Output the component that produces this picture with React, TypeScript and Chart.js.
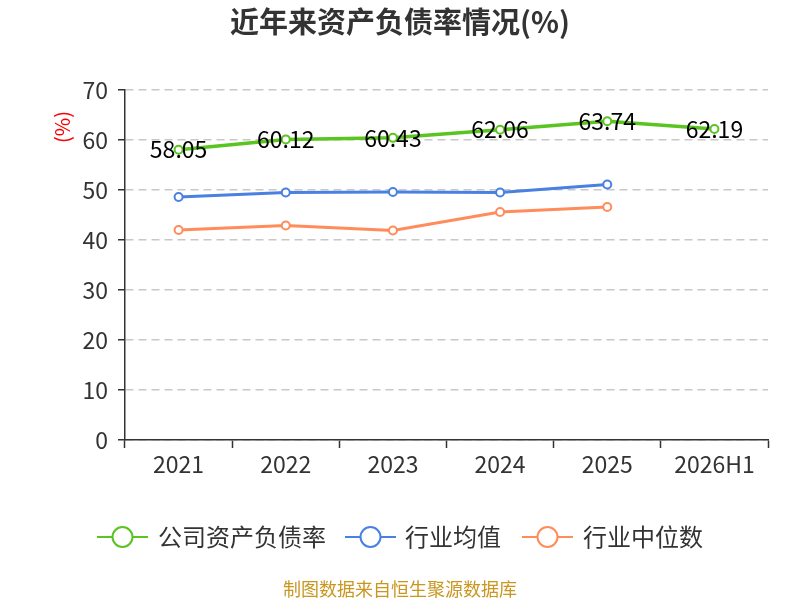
import { useEffect, useRef } from "react"
import { Chart, registerables } from "chart.js"

Chart.register(...registerables)

const FONT = '"Noto Sans CJK SC", "Noto Sans", sans-serif'

const title = "近年来资产负债率情况(%)"
const source = "制图数据来自恒生聚源数据库"
const years = ["2021", "2022", "2023", "2024", "2025", "2026H1"]
const seriesNames = ["公司资产负债率", "行业均值", "行业中位数"]
const seriesColors = ["#5ac421", "#4a80e2", "#ff8c5a"]
const companyRatio = [58.05, 60.12, 60.43, 62.06, 63.74, 62.19]
const industryMean = [48.6, 49.5, 49.6, 49.5, 51.1, null]
const industryMedian = [42.0, 42.9, 41.9, 45.6, 46.6, null]

const legendItems = [
  { x: 97, textX: 158 },
  { x: 345, textX: 405 },
  { x: 522, textX: 583 },
]

const overlay = {
  id: "overlay",
  afterDatasetsDraw(chart: Chart) {
    const ctx = chart.ctx
    const meta = chart.getDatasetMeta(0)
    ctx.save()
    ctx.font = `23px ${FONT}`
    ctx.fillStyle = "#000"
    ctx.textAlign = "center"
    ctx.textBaseline = "middle"
    meta.data.forEach((pt, i) => {
      ctx.fillText(companyRatio[i].toFixed(2), pt.x, pt.y)
    })
    ctx.restore()
  },
  afterDraw(chart: Chart) {
    const ctx = chart.ctx
    ctx.save()
    // title
    ctx.font = `bold 29px ${FONT}`
    ctx.fillStyle = "#333"
    ctx.textAlign = "center"
    ctx.textBaseline = "middle"
    ctx.fillText(title, 400, 22)

    // unit label
    ctx.save()
    ctx.translate(62, 127)
    ctx.rotate(-Math.PI / 2)
    ctx.font = `20px ${FONT}`
    ctx.fillStyle = "#f00"
    ctx.fillText("(%)", 0, 0)
    ctx.restore()

    // legend
    ctx.textAlign = "left"
    ctx.font = `24px ${FONT}`
    legendItems.forEach((item, i) => {
      const y = 537
      ctx.strokeStyle = seriesColors[i]
      ctx.lineWidth = 2
      ctx.beginPath()
      ctx.moveTo(item.x, y)
      ctx.lineTo(item.x + 51, y)
      ctx.stroke()
      ctx.beginPath()
      ctx.arc(item.x + 25.5, y, 10, 0, Math.PI * 2)
      ctx.fillStyle = "#fff"
      ctx.fill()
      ctx.stroke()
      ctx.fillStyle = "#333"
      ctx.fillText(seriesNames[i], item.textX, y)
    })

    // source
    ctx.textAlign = "center"
    ctx.font = `18px ${FONT}`
    ctx.fillStyle = "#c9961f"
    ctx.fillText(source, 400, 589)
    ctx.restore()
  },
}

export default function App() {
  const chartRef = useRef<HTMLCanvasElement>(null)
  const chartInstance = useRef<Chart | null>(null)

  useEffect(() => {
    if (!chartRef.current) return
    if (chartInstance.current) chartInstance.current.destroy()
    const ctx = chartRef.current.getContext("2d")
    if (!ctx) return

    const makeSet = (i: number, data: (number | null)[]) => ({
      label: seriesNames[i],
      data,
      borderColor: seriesColors[i],
      backgroundColor: "#fff",
      borderWidth: i === 0 ? 3.5 : 3,
      pointRadius: 4,
      pointBorderWidth: 2,
      pointBackgroundColor: "#fff",
      pointBorderColor: seriesColors[i],
      tension: 0,
      spanGaps: false,
    })

    chartInstance.current = new Chart(ctx, {
      type: "line",
      data: {
        labels: years,
        datasets: [
          makeSet(0, companyRatio),
          makeSet(1, industryMean),
          makeSet(2, industryMedian),
        ],
      },
      options: {
        responsive: false,
        animation: false,
        layout: { padding: { left: 0, top: 90, right: 32, bottom: 100 } },
        plugins: {
          legend: { display: false },
          title: { display: false },
          tooltip: { enabled: false },
        },
        scales: {
          x: {
            offset: true,
            afterFit: (scale: any) => {
              scale.height = 60
            },
            grid: {
              offset: true,
              drawOnChartArea: false,
              drawTicks: true,
              tickLength: 8,
              tickColor: "#333",
              tickWidth: 1.5,
            },
            border: { color: "#333", width: 1.5 },
            ticks: { color: "#333", font: { size: 23, family: FONT }, padding: 2 },
          },
          y: {
            min: 0,
            max: 70,
            afterFit: (scale: any) => {
              scale.width = 125
            },
            grid: {
              color: "#c8c8c8",
              lineWidth: 1.5,
              tickLength: 7,
              tickColor: "#333",
              tickWidth: 1.5,
            },
            border: { color: "#333", width: 1.5, dash: [8, 5] },
            ticks: {
              stepSize: 10,
              color: "#333",
              font: { size: 23, family: FONT },
              padding: 10,
            },
          },
        },
      },
      plugins: [overlay],
    })

    return () => {
      if (chartInstance.current) {
        chartInstance.current.destroy()
        chartInstance.current = null
      }
    }
  }, [])

  return (
    <div style={{ position: "absolute", left: 0, top: 0, width: 800, height: 600, background: "#fff" }}>
      <canvas ref={chartRef} width={800} height={600} />
    </div>
  )
}
